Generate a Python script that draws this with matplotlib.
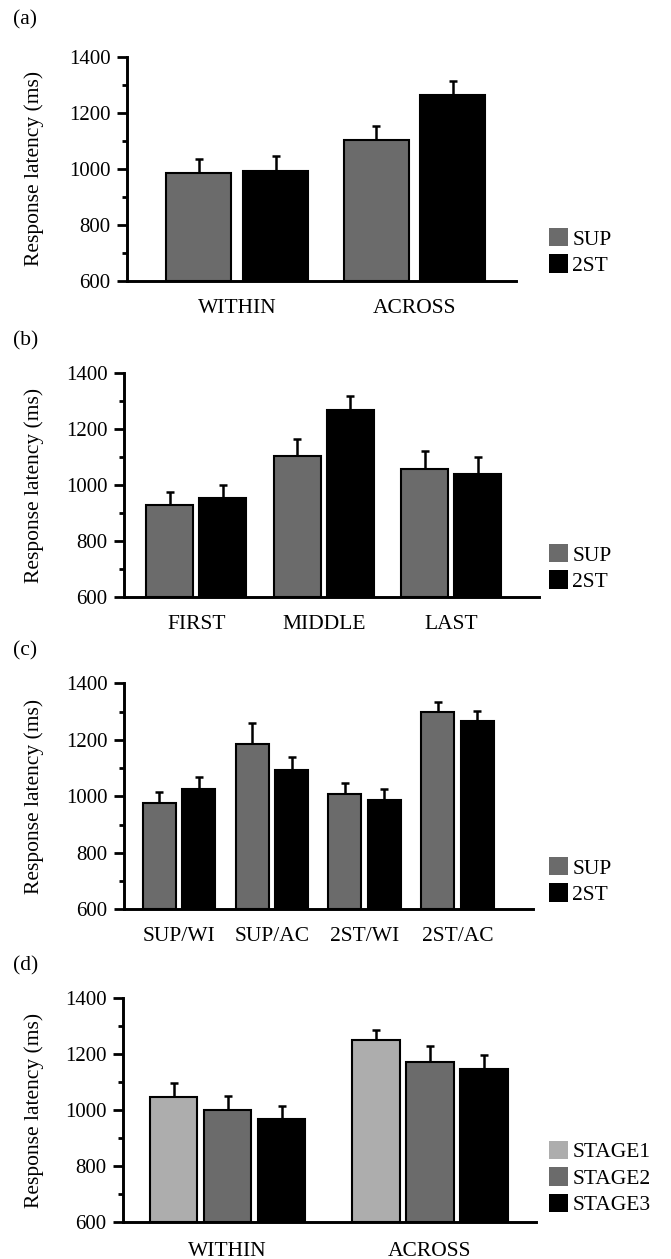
import matplotlib
matplotlib.use("Agg")
import matplotlib.pyplot as plt
import numpy as np
from matplotlib.patches import Patch
from matplotlib.ticker import MultipleLocator

plt.rcParams["font.family"] = ["Liberation Serif", "DejaVu Serif"]

# (a) transition type
a_cats = ["WITHIN", "ACROSS"]
a_sup = [987, 1105]
a_sup_err = [50, 48]
a_2st = [994, 1266]
a_2st_err = [53, 48]

# (b) position in sequence
b_cats = ["FIRST", "MIDDLE", "LAST"]
b_sup = [930, 1104, 1057]
b_sup_err = [44, 60, 64]
b_2st = [955, 1267, 1038]
b_2st_err = [44, 53, 62]

# (c) condition/transition
c_cats = ["SUP/WI", "SUP/AC", "2ST/WI", "2ST/AC"]
c_sup = [976, 1185, 1009, 1297]
c_sup_err = [38, 73, 37, 35]
c_2st = [1026, 1093, 985, 1266]
c_2st_err = [42, 45, 41, 36]

# (d) stages
d_cats = ["WITHIN", "ACROSS"]
d_s1 = [1046, 1252]
d_s1_err = [51, 36]
d_s2 = [1001, 1172]
d_s2_err = [52, 58]
d_s3 = [969, 1147]
d_s3_err = [47, 52]

GRAY = "#6b6b6b"
LIGHT = "#adadad"
BLACK = "#000000"
FS = 15.5

fig = plt.figure(figsize=(6.71, 12.59), dpi=100)


def panel(rect, cats, series, xlim, width, step, letter, legend_y, xpad=13):
    ax = fig.add_axes(rect)
    x = np.arange(len(cats))
    n = len(series)
    for i, (vals, errs, color, label) in enumerate(series):
        pos = x + (i - (n - 1) / 2) * step
        ax.errorbar(pos, vals, yerr=[np.zeros(len(vals)), errs], fmt="none",
                    ecolor="black", elinewidth=1.8, capsize=3, capthick=1.8,
                    zorder=1, clip_on=False)
        ax.bar(pos, np.array(vals) - 600, width, bottom=600, color=color,
               edgecolor="black", linewidth=1.5, zorder=2, clip_on=False)
    ax.set_xlim(*xlim)
    ax.set_ylim(600, 1400)
    ax.set_yticks([600, 800, 1000, 1200, 1400])
    ax.yaxis.set_minor_locator(MultipleLocator(100))
    ax.set_xticks(x)
    ax.set_xticklabels(cats, fontsize=FS)
    ax.tick_params(axis="x", length=0, pad=xpad)
    ax.tick_params(axis="y", which="major", length=7, width=2, labelsize=15, pad=5)
    ax.tick_params(axis="y", which="minor", length=3.6, width=2)
    for s in ["top", "right"]:
        ax.spines[s].set_visible(False)
    for s in ["left", "bottom"]:
        ax.spines[s].set_linewidth(2.1)
    ax.set_ylabel("Response latency (ms)", fontsize=FS)
    ax.yaxis.set_label_coords(44 / 671, rect[1] + rect[3] / 2,
                              transform=fig.transFigure)
    top = rect[1] + rect[3]
    fig.text(13 / 671, top + 0.0255 if letter != "(a)" else 1 - 20 / 1259,
             letter, fontsize=FS, va="center", ha="left")
    handles = [Patch(facecolor=c, edgecolor="none", label=l) for _, _, c, l in series]
    ax.legend(handles=handles, loc="center left",
              bbox_to_anchor=(549 / 671, legend_y), bbox_transform=fig.transFigure,
              frameon=False, fontsize=FS, handlelength=0.88, handleheight=0.93,
              handletextpad=0.2, labelspacing=0.22, borderpad=0, borderaxespad=0)
    return ax


panel([0.1893, 0.7772, 0.5797, 0.1773], a_cats,
      [(a_sup, a_sup_err, GRAY, "SUP"), (a_2st, a_2st_err, BLACK, "2ST")],
      (-0.622, 1.573), 0.367, 0.432, "(a)", 1 - 252 / 1259)

panel([0.1848, 0.5261, 0.6185, 0.1774], b_cats,
      [(b_sup, b_sup_err, GRAY, "SUP"), (b_2st, b_2st_err, BLACK, "2ST")],
      (-0.568, 2.69), 0.37, 0.417, "(b)", 1 - 568 / 1259)

panel([0.1848, 0.2778, 0.6088, 0.1795], c_cats,
      [(c_sup, c_sup_err, GRAY, "SUP"), (c_2st, c_2st_err, BLACK, "2ST")],
      (-0.593, 3.81), 0.356, 0.426, "(c)", 1 - 881 / 1259)

panel([0.1833, 0.0290, 0.6155, 0.1781], d_cats,
      [(d_s1, d_s1_err, LIGHT, "STAGE1"), (d_s2, d_s2_err, GRAY, "STAGE2"),
       (d_s3, d_s3_err, BLACK, "STAGE3")],
      (-0.518, 1.525), 0.235, 0.267, "(d)", 1 - 1178 / 1259, xpad=14)

fig.savefig("out.png", dpi=100)
